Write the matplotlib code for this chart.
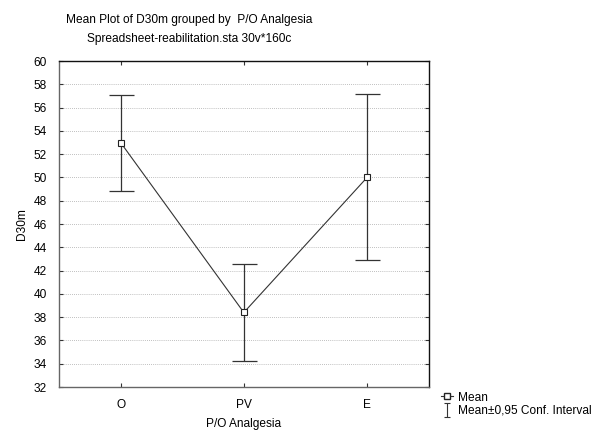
import matplotlib.pyplot as plt
from matplotlib.lines import Line2D
from matplotlib.path import Path

plt.rcParams["font.family"] = ["Liberation Sans", "DejaVu Sans"]
plt.rcParams["font.size"] = 8.6

groups = ["O", "PV", "E"]
means = [53.0, 38.4, 50.0]
ci_low = [48.8, 34.2, 42.9]
ci_high = [57.1, 42.6, 57.2]

fig = plt.figure(figsize=(6.11, 4.3), dpi=100)
ax = fig.add_axes([0.0966, 0.1, 0.605, 0.758])

x = list(range(len(groups)))
err_lo = [m - l for m, l in zip(means, ci_low)]
err_hi = [h - m for m, h in zip(means, ci_high)]

ax.errorbar(x, means, yerr=[err_lo, err_hi], fmt="none", ecolor="#333333",
            elinewidth=0.9, capsize=9, capthick=0.9, zorder=3)
ax.plot(x, means, color="#333333", lw=0.8, marker="s", markersize=4,
        markerfacecolor="white", markeredgecolor="#222222", markeredgewidth=0.8, zorder=4)

ax.set_xlim(-0.5, 2.5)
ax.set_ylim(32, 60)
ax.set_yticks(range(32, 61, 2))
ax.set_xticks(x)
ax.set_xticklabels(groups)
ax.tick_params(direction="in", length=3, top=True, right=True, width=0.8, color="#333333")
ax.tick_params(axis="y", pad=9)
ax.tick_params(axis="x", pad=9)
ax.yaxis.grid(True, linestyle=(0, (1, 1.5)), color="#aaaaaa", lw=0.6)
for side, s in ax.spines.items():
    s.set_color("#111111" if side in ("top", "right") else "#666666")
    s.set_linewidth(1.0)

ax.set_ylabel("D30m", labelpad=4)
ax.set_xlabel("P/O Analgesia", labelpad=5)

fig.text(0.31, 0.953, "Mean Plot of D30m grouped by  P/O Analgesia", ha="center", va="center")
fig.text(0.31, 0.910, "Spreadsheet-reabilitation.sta 30v*160c", ha="center", va="center")

ibeam = Path([(-0.5, -1), (0.5, -1), (0, -1), (0, 1), (-0.5, 1), (0.5, 1)],
             [Path.MOVETO, Path.LINETO, Path.MOVETO, Path.LINETO, Path.MOVETO, Path.LINETO])
handles = [
    Line2D([], [], color="#333333", lw=0.8, marker="s", markersize=4,
           markerfacecolor="white", markeredgecolor="#222222"),
    Line2D([], [], color="#333333", lw=0, marker=ibeam, markersize=10,
           markeredgewidth=0.8, markerfacecolor="none", markeredgecolor="#333333"),
]
fig.legend(handles, ["Mean", "Mean±0,95 Conf. Interval"], loc="lower left",
           bbox_to_anchor=(0.712, 0.017), frameon=False, handlelength=1.0,
           handletextpad=0.4, labelspacing=0.1, borderpad=0)

fig.savefig("out.png", dpi=100)
